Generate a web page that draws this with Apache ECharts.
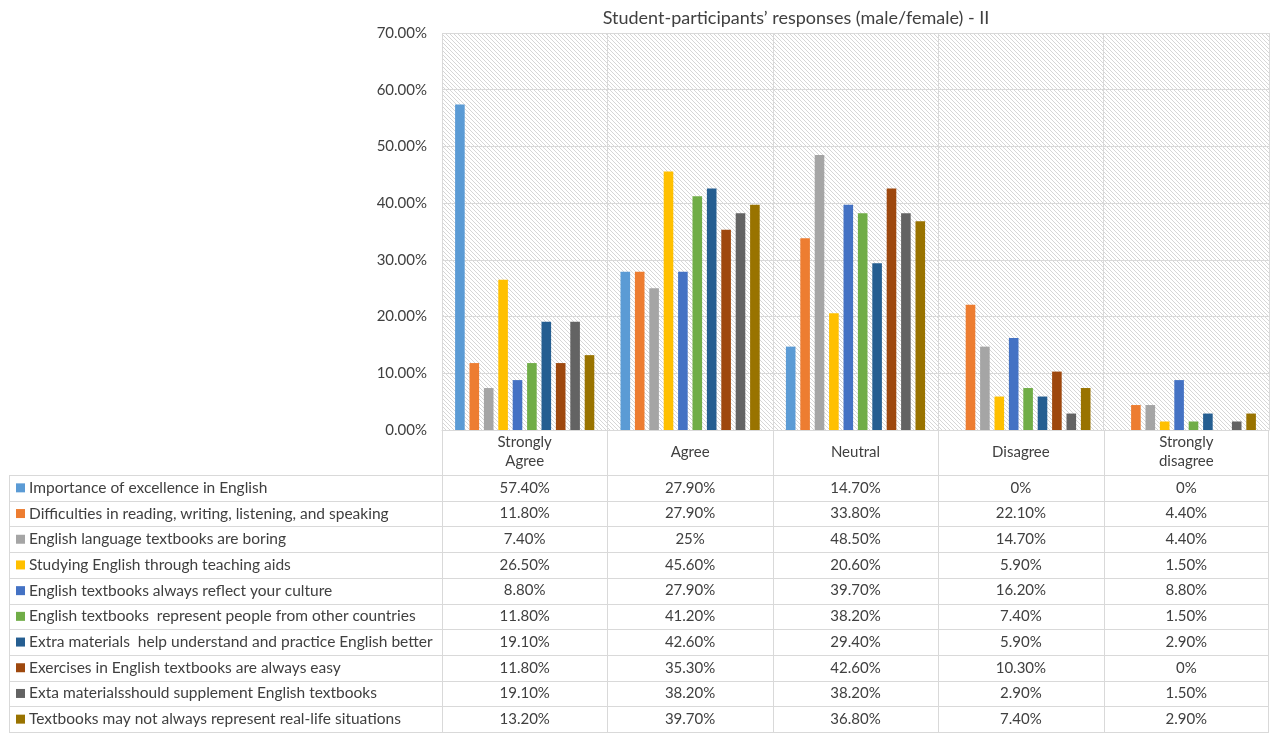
<!DOCTYPE html>
<html>
<head>
<meta charset="utf-8">
<script src="https://cdn.jsdelivr.net/npm/echarts@6/dist/echarts.min.js"></script>
<style>
  html, body { margin: 0; padding: 0; background: #fff; }
  #chart { width: 1270px; height: 734px; }
</style>
</head>
<body>
<div id="chart"></div>
<script>
const categories = ["Strongly Agree", "Agree", "Neutral", "Disagree", "Strongly disagree"];

const seriesNames = [
  "Importance of excellence in English",
  "Difficulties in reading, writing, listening, and speaking",
  "English language textbooks are boring",
  "Studying English through teaching aids",
  "English textbooks always reflect your culture",
  "English textbooks  represent people from other countries",
  "Extra materials  help understand and practice English better",
  "Exercises in English textbooks are always easy",
  "Exta materialsshould supplement English textbooks",
  "Textbooks may not always represent real-life situations"
];

const importance = [57.4, 27.9, 14.7, 0, 0];
const difficulties = [11.8, 27.9, 33.8, 22.1, 4.4];
const boring = [7.4, 25, 48.5, 14.7, 4.4];
const teachingAids = [26.5, 45.6, 20.6, 5.9, 1.5];
const culture = [8.8, 27.9, 39.7, 16.2, 8.8];
const otherCountries = [11.8, 41.2, 38.2, 7.4, 1.5];
const extraHelp = [19.1, 42.6, 29.4, 5.9, 2.9];
const easyExercises = [11.8, 35.3, 42.6, 10.3, 0];
const supplement = [19.1, 38.2, 38.2, 2.9, 1.5];
const realLife = [13.2, 39.7, 36.8, 7.4, 2.9];

const allValues = [importance, difficulties, boring, teachingAids, culture,
  otherCountries, extraHelp, easyExercises, supplement, realLife];

const colors = ["#5B9BD5", "#ED7D31", "#A5A5A5", "#FFC000", "#4472C4",
  "#70AD47", "#255E91", "#9E480E", "#636363", "#997300"];

const yMin = 0, yMax = 70, yStep = 10;

const font = "Lato, 'Noto Sans', sans-serif";
const textColor = "#404040";
const lineColor = "#d9d9d9";

// diagonal hatch for the plot background
const hatch = document.createElement("canvas");
hatch.width = 8;
hatch.height = 8;
(function () {
  const ctx = hatch.getContext("2d");
  const img = ctx.createImageData(8, 8);
  for (let y = 0; y < 8; y++) {
    for (let x = 0; x < 8; x++) {
      const on = ((x - y) % 4 + 4) % 4 === 0;
      const c = on ? 214 : 255;
      const i = (y * 8 + x) * 4;
      img.data[i] = c; img.data[i + 1] = c; img.data[i + 2] = c; img.data[i + 3] = 255;
    }
  }
  ctx.putImageData(img, 0, 0);
})();

const fmtPct = v => (Number.isInteger(v) ? v : v.toFixed(2)) + "%";

const chart = echarts.init(document.getElementById("chart"));

const option = {
  animation: false,
  color: colors,
  title: {
    text: "Student-participants\u2019 responses (male/female) - II",
    left: 791,
    top: 4,
    textAlign: "center",
    textStyle: { fontFamily: font, fontSize: 18, fontWeight: "normal", color: textColor }
  },
  grid: {
    left: 442,
    right: 1,
    top: 33,
    bottom: 304,
    show: true,
    borderWidth: 0,
    backgroundColor: { image: hatch, repeat: "repeat" }
  },
  xAxis: {
    type: "category",
    data: categories,
    axisLine: { lineStyle: { color: lineColor } },
    axisTick: { show: false },
    splitLine: { show: true, lineStyle: { color: lineColor } },
    axisLabel: {
      interval: 0,
      margin: 22,
      verticalAlign: "middle",
      lineHeight: 19,
      fontFamily: font,
      fontSize: 15,
      color: textColor,
      formatter: v => v.replace("Strongly ", "Strongly\n")
    }
  },
  yAxis: {
    type: "value",
    min: yMin,
    max: yMax,
    interval: yStep,
    axisLine: { show: false },
    axisTick: { show: false },
    splitLine: { lineStyle: { color: lineColor } },
    axisLabel: {
      margin: 15,
      fontFamily: font,
      fontSize: 15,
      color: textColor,
      formatter: v => v.toFixed(2) + "%"
    }
  },
  series: seriesNames.map((name, i) => ({
    name: name,
    type: "bar",
    data: allValues[i],
    barWidth: 9.6,
    barGap: "50%",
    itemStyle: { color: colors[i] }
  }))
};

chart.setOption(option);

// data table under the plot, columns taken from the category axis
const plotBottom = 430;
const rowTop = 475;
const rowH = 25.7;
const tableLeft = 9;
const c0 = chart.convertToPixel({ xAxisIndex: 0 }, 0);
const c1 = chart.convertToPixel({ xAxisIndex: 0 }, 1);
const colW = c1 - c0;
const centers = categories.map((c, j) => chart.convertToPixel({ xAxisIndex: 0 }, j));
const tableRight = centers[centers.length - 1] + colW / 2;
const tableBottom = rowTop + rowH * seriesNames.length;

const graphics = [];
const line = (x1, y1, x2, y2) => graphics.push({
  type: "line",
  silent: true,
  shape: { x1: x1, y1: y1, x2: x2, y2: y2 },
  style: { stroke: lineColor, lineWidth: 1 }
});

for (let i = 0; i <= seriesNames.length; i++) {
  const y = Math.round(rowTop + i * rowH) + 0.5;
  line(tableLeft, y, tableRight, y);
}
line(tableLeft + 0.5, rowTop, tableLeft + 0.5, tableBottom);
centers.forEach(cx => {
  const x = Math.round(cx - colW / 2) + 0.5;
  line(x, plotBottom, x, tableBottom);
});
line(Math.round(tableRight) - 0.5, plotBottom, Math.round(tableRight) - 0.5, tableBottom);

seriesNames.forEach((name, i) => {
  const cy = rowTop + i * rowH + rowH / 2;
  graphics.push({
    type: "rect",
    silent: true,
    shape: { x: 16, y: cy - 4.5, width: 9, height: 9 },
    style: { fill: colors[i] }
  });
  graphics.push({
    type: "text",
    silent: true,
    style: {
      x: 29, y: cy, text: name,
      textAlign: "left", textVerticalAlign: "middle",
      align: "left", verticalAlign: "middle",
      fill: textColor, font: "15.5px " + font
    }
  });
  allValues[i].forEach((v, j) => {
    graphics.push({
      type: "text",
      silent: true,
      style: {
        x: centers[j], y: cy, text: fmtPct(v),
        textAlign: "center", textVerticalAlign: "middle",
        align: "center", verticalAlign: "middle",
        fill: textColor, font: "15px " + font
      }
    });
  });
});

chart.setOption({ graphic: graphics });
</script>
</body>
</html>
